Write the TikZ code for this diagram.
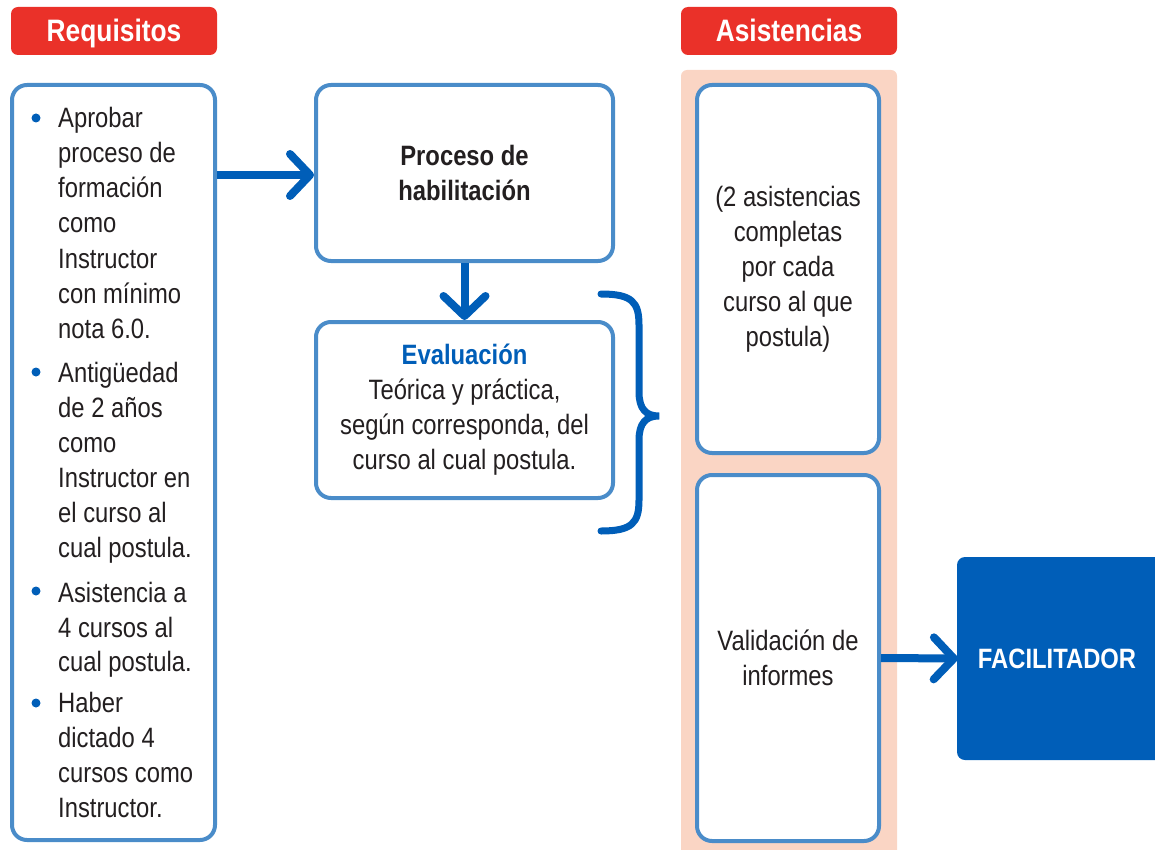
\documentclass[tikz,border=0pt]{standalone}
\usepackage{fontspec}
\setmainfont{Liberation Sans}[FakeStretch=0.85]
\usetikzlibrary{arrows.meta}
\definecolor{hdred}{HTML}{EA3129}
\definecolor{dblue}{HTML}{005EB8}
\definecolor{lblue}{HTML}{4A8CC9}
\definecolor{peach}{HTML}{FAD5C4}
\definecolor{txt}{HTML}{231F20}
\tikzset{
  x=1pt, y=-1pt,
  header/.style={fill=hdred, rounded corners=7, text=white, font=\fontsize{31}{36}\selectfont\bfseries, inner sep=0, text height=22, text depth=0},
  boxl/.style={draw=lblue, line width=4, rounded corners=15, fill=white, inner sep=0, text=txt, align=center, font=\fontsize{28}{35}\selectfont},
  flow/.style={draw=dblue, line width=8, -{Straight Barb[length=20pt,width=42pt,round]}},
  bodytxt/.style={text=txt, font=\fontsize{28}{35}\selectfont, inner sep=0, anchor=base west},
  bul/.style={circle, fill=dblue, inner sep=0, minimum size=9},
}
\begin{document}
\begin{tikzpicture}
\useasboundingbox (0,0) rectangle (1155,850);
% headers
\node[header, minimum width=206, minimum height=48] (hreq) at (114,31) {Requisitos};
\node[header, minimum width=216, minimum height=48] (hasi) at (789,31) {Asistencias};
% peach column
\fill[peach, rounded corners=6] (681,850) -- (681,70) -- (897,70) -- (897,850);
\fill[peach] (681,840) rectangle (897,850);
% requisitos box
\node[boxl, minimum width=203, minimum height=755] (req) at (113.5,462.5) {};
\foreach \y/\t [count=\i] in {128/Aprobar, 163/proceso de, 198/formación, 233/como, 268/Instructor, 303/con mínimo, 338/nota 6.0.,
  382/Antigüedad, 417/de 2 años, 452/como, 487/Instructor en, 522/el curso al, 557/cual postula.,
  602/Asistencia a, 637/4 cursos al, 671/cual postula.,
  712/Haber, 747/dictado 4, 782/cursos como, 817/Instructor.}
  \node[bodytxt] (l\i) at (58,\y) {\t};
\foreach \y/\n in {118/1, 372/2, 591/3, 703/4}
  \node[bul] (b\n) at (36,\y) {};
% center boxes
\node[boxl, minimum width=297, minimum height=176, font=\fontsize{28}{35}\selectfont\bfseries] (proc) at (464.5,173) {Proceso de\\habilitación};
\node[boxl, minimum width=297, minimum height=176] (eval) at (464.5,410) {\textcolor{dblue}{\bfseries Evaluación}\\Teórica y práctica,\\según corresponda, del\\curso al cual postula.};
% asistencias boxes
\node[boxl, minimum width=182, minimum height=368] (as1) at (788,269) {(2 asistencias\\completas\\por cada\\curso al que\\postula)};
\node[boxl, minimum width=182, minimum height=366] (as2) at (788,658) {Validación de\\informes};
% facilitador
\fill[dblue] (1155,557) [rounded corners=8] -- (957,557) -- (957,760) [sharp corners] -- (1155,760) -- cycle;
\node[minimum width=198, minimum height=203, inner sep=0, text=white, font=\fontsize{28}{35}\selectfont\bfseries] (fac) at (1057,658.5) {FACILITADOR};
% arrows
\draw[flow] (req.east |- 0,175) -- (proc.west |- 0,175);
\draw[flow] (proc.south) -- (eval.north);
\draw[flow] (as2.east) -- (fac.west);
% brace
\coordinate (bt) at (601,294);
\coordinate (bb) at (601,531);
\coordinate (btip) at (659,416);
\draw[dblue, line width=7, line cap=round]
  (bt) .. controls (632,294) and (639,302) .. (639,325) -- (639,392)
  .. controls (639,409) and (646,416) .. (btip)
  .. controls (646,416) and (639,423) .. (639,440) -- (639,500)
  .. controls (639,523) and (632,531) .. (bb);
\end{tikzpicture}
\end{document}
